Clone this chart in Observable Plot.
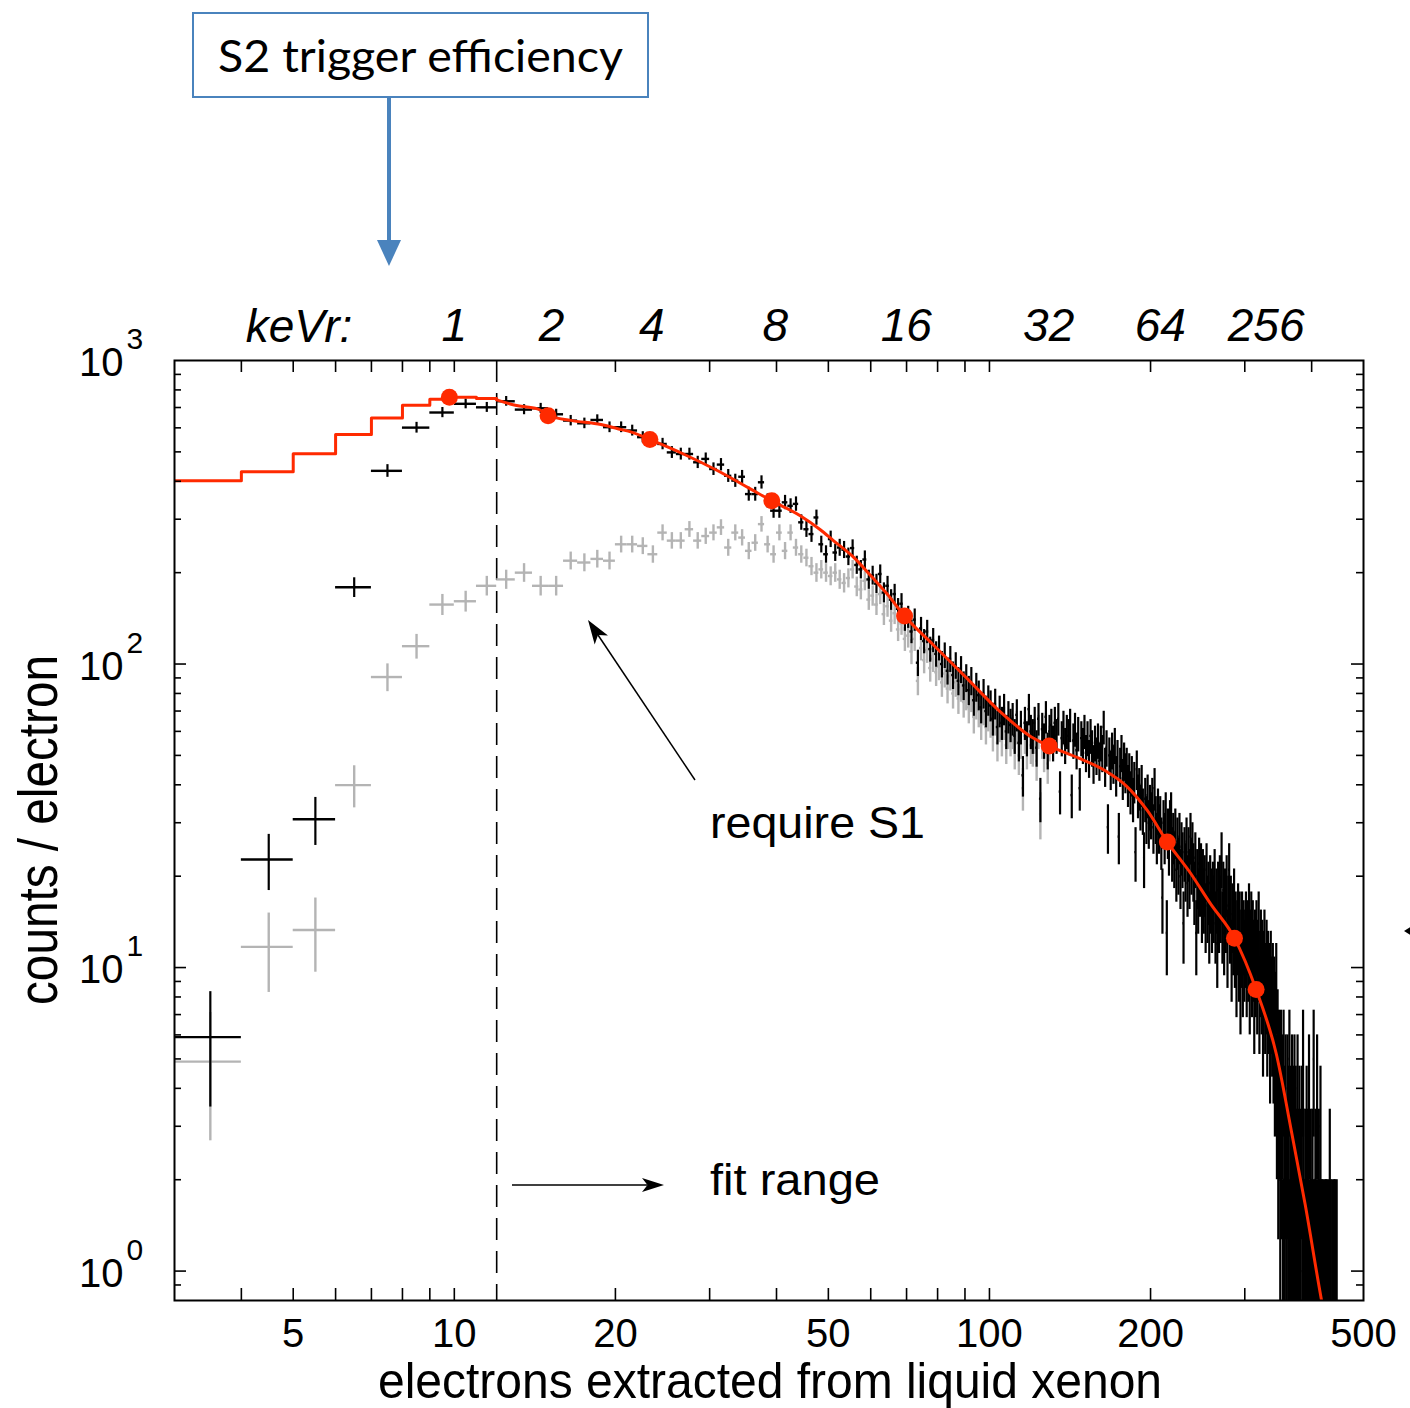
<!DOCTYPE html>
<html><head><meta charset="utf-8">
<script src="https://cdn.jsdelivr.net/npm/d3@7"></script>
<script src="https://cdn.jsdelivr.net/npm/@observablehq/plot@0.6"></script>
<style>html,body{margin:0;padding:0;background:#fff;} svg{display:block}</style>
</head><body><div id="chart"></div>
<script>
// ---------- data (1-electron bins, first bin starts at 3 electrons) ----------
const firstBinEdge = 3;
const blackCounts = [
  5.9, 22.7, 30.8, 179, 433, 601, 674, 720, 701, 734,
  689, 696, 665, 634, 621, 637, 603, 603, 588, 559,
  545, 531, 498, 492, 492, 462, 474, 439, 454, 417,
  402, 414, 363, 363, 397, 345, 320, 320, 341, 332,
  337, 293, 278, 268, 304, 248, 230, 258, 233, 242,
  238, 226, 241, 212, 205, 221, 190,
  196,184,198,172,181,163,170,152,158,140,
  143,128,140,101,131,119,128,112,120,108,
  113,100,107,95,104,92,99,88,96,85,
  90,82,88,76,84,79,72,80,70,76,
  73,66,74,62,70,64,71,60,67,63,
  66,58,68,55,62,43,64,57,71,60,
  58,64,53,66,36,61,56,67,52,60,
  63,55,64,58,66,38,57,62,54,60,
  58,63,37,56,61,52,59,39,57,54,
  60,51,57,49,58,53,47,55,50,56,
  48,55,51,62,46,53,29,50,45,52,
  47,54,43,49,27,46,51,42,48,44,
  46,40,44,38,43,36,41,24,45,37,
  39,34,40,33,23,36,31,37,30,34,
  32,36,29,39,31,27,33,29,31,26,
  17,30,27,32,13,28,25,30,32,24,
  27,23,28,21,26,22,27,20,25,23,
  14,24,21,26,19,24,20,27,22,25,
  21,18,23,13,20,17,22,19,21,16,
  20,17,19,15,21,16,18,14,19,17,
  15,18,16,20,14,17,12,18,15,19,
  16,23,14,18,13,17,15,19,12,16,
  21,14,16,11,15,13,17,12,14,10,
  13,15,11,14,9,12,14,10,13,11,
  12,14,10,13,11,15,9,12,14,10,
  13,11,8,12,10,13,9,11,14,8,
  10,12,9,11,7,10,12,8,9,11,
  7,10,8,9,6,10,8,7,9,6,
  8,5,7,9,4,6,3,5,4,2,
  5,3,4,1,5,2,3,4,2,1,
  4,3,2,5,1,3,2,4,1,3,
  2,4,1,3,0,2,4,1,2,3,
  1,2,0,3,1,5,2,1,0,2,
  1,3,0,2,1,4,1,0,2,1,
  0,2,1,5,0,1,2,0,1,4,
  1,0,2,1,0,3,1,0,1,0,
  1,0,0,1,0,1,0,1,0,0,
  1,0,2,0,1,0,0,1,0,0,
  1,0,1,0,0,1
];
const grayCounts = [
  4.9, 11.7, 13.3, 39.9, 90.6, 114.5, 157, 161, 181, 190,
  200, 181, 181, 219, 216, 222, 219, 248, 248, 245,
  230, 271, 255, 255, 278, 255, 264, 271, 282, 242,
  271, 261, 236, 251, 289, 248, 230, 271, 236, 271,
  242, 230, 224, 210, 200, 205, 200, 195, 200, 190,
  185, 192, 205, 180, 176, 188, 163,
  168,157,170,146,155,139,147,130,136,121,
  124,110,121,88,113,103,111,97,104,94,
  98,87,93,83,91,80,87,77,84,75,
  79,72,78,67,74,70,64,71,62,68,
  65,59,66,55,63,57,64,54,60,57,
  60,52,62,50,56,39,58,52,65,54,
  53,58,48,60,32,56,51,61,47,55
];
// model (red): stepped part and smooth part
const modelStepX = [3, 4, 5, 6, 7, 8, 9, 10, 11, 12];
const modelStepY = [402, 430, 493, 570, 647, 712, 745, 757, 749, 742];
const modelX = [12, 13, 14.3, 15, 16.5, 18.8, 20.2, 21.5, 23.2, 26.8, 31, 35.8, 39.2, 44.3, 48.3, 51.1, 55.7, 60.4, 64.4, 69.4, 78.4, 90.5, 104.4, 120, 129.3, 146.9, 164.6, 180.1, 197.5, 215, 236, 259, 287, 315, 343.7, 366.9, 389.2, 418, 440];
const modelY = [742, 712, 693, 660, 635, 615, 596, 580, 549, 492, 434, 377, 345, 308, 277, 255, 225, 193, 170, 144, 116, 90.2, 70, 57.4, 53.7, 49.0, 44.5, 39.7, 32.8, 25.9, 20.8, 16.2, 12.5, 8.46, 5.18, 2.87, 1.65, 0.79, 0.5];
// keVr markers on the model
const keVrDotX = [9.79, 14.97, 23.2, 39.2, 69.4, 129.3, 215, 287, 315];
const keVrDotY = [757, 658, 549, 345, 144, 53.7, 25.9, 12.5, 8.46];
const keVrLabels = ["1", "2", "4", "8", "16", "32", "64", "256"];
const keVrLabelX = [10, 15.2, 23.4, 39.8, 69.9, 129, 208.5, 328.9];
// axes
const xTickLabels = [5, 10, 20, 50, 100, 200, 500];
const xTicks = [4, 5, 6, 7, 8, 9, 10, 20, 30, 40, 50, 60, 70, 80, 90, 100, 200, 300, 400];
const yMajorTicks = [1, 10, 100];
const yMinorTicks = [0.9, 2, 3, 4, 5, 6, 7, 8, 9, 20, 30, 40, 50, 60, 70, 80, 90, 200, 300, 400, 500, 600, 700, 800, 900];
const yTickLabels = [1, 10, 100, 1000];
const fitStart = 12;

// ---------- layout ----------
const W = 1410, H = 1408, mL = 174, mR = 47, mT = 360, mB = 108;
const fw = W - mL - mR, fh = H - mT - mB;
const RED = "#ff2a00", GRAY = "#b4b4b4", BLUE = "#4a83bd";
const SANS = "'Liberation Sans', Arial, Helvetica, sans-serif";

function rows(counts) {
  return counts.map((n, i) => ({lo: firstBinEdge + i, hi: firstBinEdge + i + 1, c: firstBinEdge + i + 0.5, n}))
    .filter(d => d.n > 0)
    .map(d => ({...d, top: d.n + Math.sqrt(d.n), bot: Math.max(d.n - Math.sqrt(d.n), 0.3)}));
}
const black = rows(blackCounts);
const gray = rows(grayCounts);
const stepRows = modelStepX.map((x, i) => ({x, y: modelStepY[i]}));
const smoothRows = modelX.map((x, i) => ({x, y: modelY[i]}));
const dotRows = keVrDotX.map((x, i) => ({x, y: keVrDotY[i]}));
const labelRows = keVrLabels.map((t, i) => ({t, x: keVrLabelX[i]}));

const plot = Plot.plot({
  width: W, height: H,
  marginLeft: mL, marginRight: mR, marginTop: mT, marginBottom: mB,
  x: {type: "log", domain: [3, 500], axis: null},
  y: {type: "log", domain: [0.8, 1000], axis: null},
  style: {background: "white"},
  marks: [
    Plot.ruleX([fitStart], {stroke: "black", strokeWidth: 1.6, strokeDasharray: "22,11"}),
    Plot.ruleX(gray, {x: "c", y1: "bot", y2: "top", stroke: GRAY, strokeWidth: 2.4, clip: true}),
    Plot.ruleY(gray, {y: "n", x1: "lo", x2: "hi", stroke: GRAY, strokeWidth: 2.4, clip: true}),
    Plot.ruleX(black, {x: "c", y1: "bot", y2: "top", stroke: "black", strokeWidth: 2.2, clip: true}),
    Plot.ruleY(black, {y: "n", x1: "lo", x2: "hi", stroke: "black", strokeWidth: 2.4, clip: true}),
    Plot.line(stepRows, {x: "x", y: "y", curve: "step-after", stroke: RED, strokeWidth: 3, clip: true}),
    Plot.line(smoothRows, {x: "x", y: "y", curve: "monotone-x", stroke: RED, strokeWidth: 3, clip: true}),
    Plot.dot(dotRows, {x: "x", y: "y", r: 8.5, fill: RED}),
    Plot.frame({stroke: "black", strokeWidth: 2}),
    Plot.tickX(xTicks, {x: d => d, insetTop: fh - 12, stroke: "black", strokeWidth: 1.6}),
    Plot.tickX(xTicks, {x: d => d, insetBottom: fh - 12, stroke: "black", strokeWidth: 1.6}),
    Plot.tickY(yMajorTicks, {y: d => d, insetRight: fw - 12, stroke: "black", strokeWidth: 1.6}),
    Plot.tickY(yMajorTicks, {y: d => d, insetLeft: fw - 12, stroke: "black", strokeWidth: 1.6}),
    Plot.tickY(yMinorTicks, {y: d => d, insetRight: fw - 7, stroke: "black", strokeWidth: 1.6}),
    Plot.tickY(yMinorTicks, {y: d => d, insetLeft: fw - 7, stroke: "black", strokeWidth: 1.6}),
    Plot.text(xTickLabels, {x: d => d, text: d => String(d), frameAnchor: "bottom", lineAnchor: "middle", dy: 34, fontSize: 40, fontFamily: SANS, fill: "black"}),
    Plot.text(yTickLabels, {y: d => d, text: () => "10", frameAnchor: "left", lineAnchor: "middle", dx: -51, dy: 3, textAnchor: "end", fontSize: 40, fontFamily: SANS, fill: "black"}),
    Plot.text(yTickLabels, {y: d => d, text: d => String(Math.round(Math.log10(d))), frameAnchor: "left", lineAnchor: "middle", dx: -48, dy: -21, textAnchor: "start", fontSize: 30, fontFamily: SANS, fill: "black"}),
    Plot.text(labelRows, {x: "x", text: "t", frameAnchor: "top", lineAnchor: "middle", dy: -34, fontSize: 46, fontStyle: "italic", fontFamily: SANS, fill: "black"})
  ]
});
document.getElementById("chart").appendChild(plot);

// ---------- annotations ----------
const svg = d3.select(plot);
const ann = svg.append("g").attr("text-anchor", "start");
function arrow(x1, y1, x2, y2, len, half, color, sw) {
  const a = Math.atan2(y2 - y1, x2 - x1);
  const bx = x2 - len * Math.cos(a), by = y2 - len * Math.sin(a);
  const nx = -Math.sin(a), ny = Math.cos(a);
  const nbx = x2 - len * 0.75 * Math.cos(a), nby = y2 - len * 0.75 * Math.sin(a);
  ann.append("line").attr("x1", x1).attr("y1", y1).attr("x2", nbx).attr("y2", nby)
    .attr("stroke", color).attr("stroke-width", sw);
  ann.append("path").attr("d", `M${x2},${y2} L${bx + nx * half},${by + ny * half} L${nbx},${nby} L${bx - nx * half},${by - ny * half} Z`)
    .attr("fill", color);
}
ann.append("text").attr("x", 299).attr("y", 342).attr("text-anchor", "middle")
  .attr("font-family", SANS).attr("font-style", "italic").attr("font-size", 46).text("keVr:");
ann.append("rect").attr("x", 193).attr("y", 13).attr("width", 455).attr("height", 84)
  .attr("fill", "white").attr("stroke", BLUE).attr("stroke-width", 2);
ann.append("text").attr("x", 218).attr("y", 72).attr("text-anchor", "start").attr("font-family", "Lato, 'Noto Sans', sans-serif")
  .attr("font-size", 45).attr("textLength", 405).attr("lengthAdjust", "spacingAndGlyphs").text("S2 trigger efficiency");
ann.append("line").attr("x1", 389).attr("y1", 97).attr("x2", 389).attr("y2", 246).attr("stroke", BLUE).attr("stroke-width", 4);
ann.append("path").attr("d", "M377,240 L401,240 L389,266 Z").attr("fill", BLUE);
arrow(695, 780, 588, 620, 24, 8, "black", 1.5);
arrow(512, 1185, 664, 1185, 22, 7, "black", 1.5);
ann.append("path").attr("d", "M1404,931 L1412,926 L1412,936 Z").attr("fill", "black");
ann.append("text").attr("x", 710).attr("y", 838).attr("text-anchor", "start").attr("font-family", SANS).attr("font-size", 45)
  .attr("textLength", 215).attr("lengthAdjust", "spacingAndGlyphs").text("require S1");
ann.append("text").attr("x", 710).attr("y", 1195).attr("text-anchor", "start").attr("font-family", SANS).attr("font-size", 45)
  .attr("textLength", 170).attr("lengthAdjust", "spacingAndGlyphs").text("fit range");
ann.append("text").attr("x", 770).attr("y", 1398).attr("text-anchor", "middle").attr("font-family", SANS)
  .attr("font-size", 50).attr("textLength", 784).attr("lengthAdjust", "spacingAndGlyphs")
  .text("electrons extracted from liquid xenon");
ann.append("text").attr("transform", "translate(57,830) rotate(-90)").attr("text-anchor", "middle")
  .attr("font-family", SANS).attr("font-size", 55).attr("textLength", 350).attr("lengthAdjust", "spacingAndGlyphs")
  .text("counts / electron");
</script>
</body></html>
